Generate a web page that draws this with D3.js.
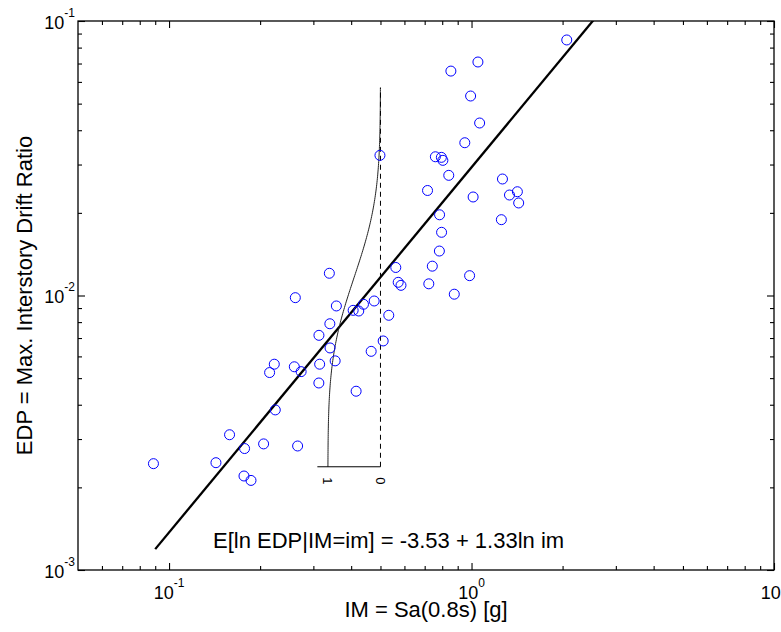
<!DOCTYPE html>
<html><head><meta charset="utf-8">
<script src="https://cdn.jsdelivr.net/npm/d3@7"></script>
<style>body{margin:0;background:#fff}svg{display:block}</style>
</head><body>
<svg id="chart" width="781" height="632"></svg>
<script>
// ---- data ----
const imValues = [0.0888,0.1429,0.1585,0.1777,0.1769,0.1866,0.2054,0.2245,0.2661,0.2228,
  0.2150,0.2595,0.2733,0.3147,0.3128,0.3130,0.3401,0.3406,0.3541,0.2615,
  0.3388,0.3574,0.4061,0.4238,0.4393,0.4766,0.5326,0.4154,0.4658,0.5104,
  0.5618,0.5722,0.5845,0.4980,0.7224,0.7419,0.7829,0.7961,0.7841,0.7154,
  0.7594,0.7949,0.8040,0.8409,0.9501,1.0122,0.8770,0.9855,1.2656,1.3350,
  1.4177,1.4318,1.2550,1.0636,0.9931,0.8546,1.0499,2.0646];
const edpValues = [0.00244,0.00246,0.00311,0.00277,0.00220,0.00212,0.00288,0.00383,0.00283,0.00562,
  0.00524,0.00550,0.00528,0.00562,0.00480,0.00716,0.00789,0.00644,0.00578,0.00982,
  0.01205,0.00916,0.00883,0.00878,0.00929,0.00955,0.00847,0.00448,0.00626,0.00683,
  0.01265,0.01117,0.01089,0.0324,0.01103,0.01279,0.01452,0.01699,0.01968,0.02413,
  0.03202,0.03186,0.03107,0.0274,0.03602,0.02285,0.01011,0.01181,0.02657,0.02323,
  0.02388,0.02173,0.01889,0.0425,0.0533,0.0657,0.0709,0.0853];

const xMajorTicks = [0.1, 1, 10];
const xMajorExp = ["-1", "0", "1"];
const yMajorTicks = [0.1, 0.01, 0.001];
const yMajorExp = ["-1", "-2", "-3"];
const xMinorTicks = [0.06,0.07,0.08,0.09,0.2,0.3,0.4,0.5,0.6,0.7,0.8,0.9,2,3,4,5,6,7,8,9];
const yMinorTicks = [0.002,0.003,0.004,0.005,0.006,0.007,0.008,0.009,0.02,0.03,0.04,0.05,0.06,0.07,0.08,0.09];

// regression model ln EDP = a + b ln IM
const fitIntercept = -3.53;
const fitSlope = 1.33;
const fitIMRange = [0.09, 2.6];
const fitLabel = "E[ln EDP|IM=im] = -3.53 + 1.33ln im";
// conditional distribution shown at IM = im
const condIM = 0.5;
const condBeta = 0.53;
const condSpan = 3;          // +/- 3 beta
const condProbIM = 0.335;    // IM position where probability = 1 is drawn
const condBaseProb = 1.2;
const condLabels = ["1", "0"];
const condLabelProbs = [1, 0];

const xLabel = "IM = Sa(0.8s) [g]";
const yLabel = "EDP = Max. Interstory Drift Ratio";

// ---- layout ----
const W = 781, H = 632;
const L = 78, R = 774, T = 21, B = 570;
const font = "'Liberation Sans', Arial, Helvetica, sans-serif";

const svg = d3.select("#chart");
const x = d3.scaleLog().domain([0.05, 10]).range([L, R]);
const y = d3.scaleLog().domain([0.001, 0.1]).range([B, T]);

svg.append("defs").append("clipPath").attr("id", "clip")
  .append("rect").attr("x", L).attr("y", T).attr("width", R - L).attr("height", B - T);

// ticks (inward, on all four sides)
function tickAxis(axisFn, scale, vals, size, tx, ty) {
  const g = svg.append("g").attr("transform", `translate(${tx},${ty})`)
    .call(axisFn(scale).tickValues(vals).tickSize(size).tickFormat(""));
  g.select(".domain").remove();
  g.selectAll(".tick line").attr("stroke", "#000").attr("stroke-width", 1.1);
}
tickAxis(d3.axisBottom, x, xMajorTicks, -7, 0, B);
tickAxis(d3.axisBottom, x, xMinorTicks, -4, 0, B);
tickAxis(d3.axisTop, x, xMajorTicks, -7, 0, T);
tickAxis(d3.axisTop, x, xMinorTicks, -4, 0, T);
tickAxis(d3.axisLeft, y, yMajorTicks, -7, L, 0);
tickAxis(d3.axisLeft, y, yMinorTicks, -4, L, 0);
tickAxis(d3.axisRight, y, yMajorTicks, -7, R, 0);
tickAxis(d3.axisRight, y, yMinorTicks, -4, R, 0);

svg.append("rect").attr("x", L).attr("y", T).attr("width", R - L).attr("height", B - T)
  .attr("fill", "none").attr("stroke", "#000").attr("stroke-width", 1.3);

// tick labels
xMajorTicks.forEach((v, i) => {
  const t = svg.append("text").attr("x", x(v)).attr("y", B + 29)
    .attr("text-anchor", "middle").attr("font-family", font).attr("font-size", 18);
  t.append("tspan").text("10");
  t.append("tspan").attr("dy", -12).attr("font-size", 12).text(xMajorExp[i]);
});
yMajorTicks.forEach((v, i) => {
  const t = svg.append("text").attr("x", L - 3).attr("y", y(v) + 7.5)
    .attr("text-anchor", "end").attr("font-family", font).attr("font-size", 18);
  t.append("tspan").text("10");
  t.append("tspan").attr("dy", -12).attr("font-size", 12).text(yMajorExp[i]);
});

// axis titles
svg.append("text").attr("x", (L + R) / 2).attr("y", 617).attr("text-anchor", "middle")
  .attr("font-family", font).attr("font-size", 22).text(xLabel);
svg.append("text").attr("transform", `translate(32,${(T + B) / 2}) rotate(-90)`)
  .attr("text-anchor", "middle").attr("font-family", font).attr("font-size", 22).text(yLabel);

// fit line
const fitFn = im => Math.exp(fitIntercept + fitSlope * Math.log(im));
svg.append("path").attr("clip-path", "url(#clip)")
  .datum(fitIMRange.map(im => [im, fitFn(im)]))
  .attr("d", d3.line().x(d => x(d[0])).y(d => y(d[1])))
  .attr("fill", "none").attr("stroke", "#000").attr("stroke-width", 2.3);

// conditional distribution at IM = condIM (exceedance probability)
function erf(z) {
  const s = Math.sign(z); z = Math.abs(z);
  const t = 1 / (1 + 0.3275911 * z);
  const yv = 1 - (((((1.061405429 * t - 1.453152027) * t) + 1.421413741) * t - 0.284496736) * t + 0.254829592) * t * Math.exp(-z * z);
  return s * yv;
}
const Phi = z => 0.5 * (1 + erf(z / Math.SQRT2));
const median = fitFn(condIM);
const edpLo = median * Math.exp(-condSpan * condBeta);
const edpHi = median * Math.exp(condSpan * condBeta);
const pScale = d3.scaleLinear().domain([0, 1]).range([x(condIM), x(condProbIM)]);
const curvePts = d3.range(0, 201).map(i => {
  const e = Math.exp(Math.log(edpLo) + (Math.log(edpHi) - Math.log(edpLo)) * i / 200);
  return [1 - Phi(Math.log(e / median) / condBeta), e];
});
svg.append("path").datum(curvePts)
  .attr("d", d3.line().x(d => pScale(d[0])).y(d => y(d[1])))
  .attr("fill", "none").attr("stroke", "#222").attr("stroke-width", 1);
svg.append("line").attr("x1", pScale(0)).attr("x2", pScale(0))
  .attr("y1", y(edpLo)).attr("y2", y(edpHi))
  .attr("stroke", "#000").attr("stroke-width", 1).attr("stroke-dasharray", "5,4");
svg.append("line").attr("x1", pScale(0)).attr("x2", pScale(condBaseProb))
  .attr("y1", y(edpLo)).attr("y2", y(edpLo))
  .attr("stroke", "#000").attr("stroke-width", 1);
condLabels.forEach((lab, i) => {
  svg.append("text")
    .attr("transform", `translate(${pScale(condLabelProbs[i])},${y(edpLo) + 14}) rotate(90)`)
    .attr("text-anchor", "middle").attr("dominant-baseline", "central")
    .attr("font-family", font).attr("font-size", 13).text(lab);
});

// data points
svg.append("g").selectAll("circle").data(imValues.map((v, i) => [v, edpValues[i]]))
  .join("circle").attr("cx", d => x(d[0])).attr("cy", d => y(d[1])).attr("r", 5)
  .attr("fill", "none").attr("stroke", "#0000ff").attr("stroke-width", 1);

// equation text
svg.append("text").attr("x", 213).attr("y", 548).attr("font-family", font)
  .attr("font-size", 22).text(fitLabel);
</script>
</body></html>
